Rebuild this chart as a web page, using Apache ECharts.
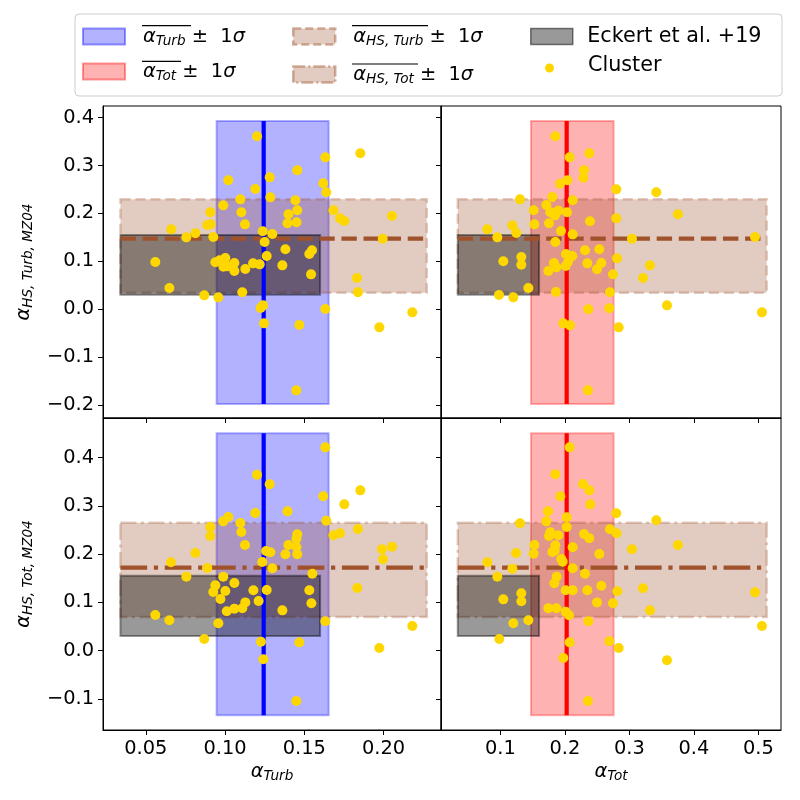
<!DOCTYPE html>
<html><head><meta charset="utf-8">
<script src="https://cdn.jsdelivr.net/npm/echarts@6.0.0/dist/echarts.min.js"></script>
<style>html,body{margin:0;padding:0;background:#fff}#c{width:800px;height:800px}</style>
</head><body><div id="c"></div>
<script>
// ---- tick labels ----
const turbTicks = [0.05, 0.10, 0.15, 0.20];
const totTicks = [0.1, 0.2, 0.3, 0.4, 0.5];
const hsTurbTicks = [-0.2, -0.1, 0.0, 0.1, 0.2, 0.3, 0.4];
const hsTotTicks = [-0.1, 0.0, 0.1, 0.2, 0.3, 0.4];

// ---- summary statistics [low, mean, high] ----
const turbStats = [0.0947, 0.1244, 0.1654];
const totStats = [0.1475, 0.2028, 0.2756];
const hsTurbStats = [0.0343, 0.1471, 0.2294];
const hsTotStats = [0.0696, 0.1718, 0.2651];
// spans of the bands
const turbRowSpan = [-0.1984, 0.3931];
const totRowSpan = [-0.134, 0.4501];
const turbColSpan = [0.034, 0.2273];
const totColSpan = [0.034, 0.5128];
// Eckert et al. +19 box
const eckertX = [0.034, 0.16];
const eckertY = [0.03, 0.155];

// ---- cluster values (per panel) ----
const tlX = [0.1202,0.1633,0.1854,0.1456,0.1021,0.1282,0.1191,0.162,0.1639,0.1286,0.1097,0.1444,0.0989,0.1456,0.0907,0.1103,0.140,0.1684,0.1726,0.1753,0.2054,0.1394,0.1451,0.0888,0.0909,0.1126,0.0661,0.0813,0.0756,0.0926,0.1238,0.1299,0.125,0.1995,0.1381,0.1549,0.1532,0.1263,0.056,0.0939,0.0966,0.1002,0.099,0.1017,0.1059,0.1059,0.1128,0.1177,0.1219,0.1362,0.1543,0.1833,0.1839,0.0649,0.0869,0.0958,0.1109,0.124,0.1225,0.1633,0.2182,0.1246,0.1469,0.1974,0.145];
const tlY = [0.361,0.3171,0.3255,0.290,0.2691,0.2753,0.2509,0.2628,0.244,0.2335,0.2293,0.2273,0.2168,0.2064,0.2022,0.2022,0.198,0.2064,0.1896,0.1841,0.1945,0.1792,0.1813,0.1757,0.1771,0.1771,0.1666,0.1583,0.1499,0.1506,0.1625,0.1569,0.1402,0.1471,0.1249,0.1228,0.1151,0.1109,0.0984,0.0977,0.1019,0.1067,0.0886,0.0893,0.0963,0.0796,0.0838,0.0956,0.0935,0.0914,0.0726,0.0649,0.035,0.044,0.0287,0.0245,0.035,0.0078,0.0022,0.0001,-0.0068,-0.0298,-0.0333,-0.0382,-0.1698];

const trX = [0.1852,0.2074,0.2379,0.2296,0.2286,0.2038,0.1924,0.2797,0.3417,0.1806,0.2121,0.1304,0.1713,0.1516,0.1775,0.1899,0.1847,0.2033,0.3753,0.2797,0.2389,0.1527,0.1754,0.1186,0.0798,0.1248,0.194,0.2121,0.0953,0.1852,0.304,0.4947,0.2312,0.2534,0.2017,0.2116,0.2808,0.1046,0.1325,0.1325,0.1831,0.1868,0.2012,0.2048,0.2348,0.2565,0.2498,0.3319,0.1744,0.2746,0.3211,0.1434,0.0979,0.1201,0.1862,0.2699,0.2364,0.2689,0.3583,0.5055,0.1976,0.2079,0.2834,0.2358];
const trY = [0.361,0.3171,0.3255,0.290,0.2746,0.2691,0.2621,0.2502,0.244,0.2342,0.2273,0.2293,0.2175,0.2064,0.2022,0.2057,0.1959,0.2022,0.198,0.1896,0.1834,0.1771,0.1792,0.175,0.1666,0.159,0.1632,0.1562,0.1499,0.1402,0.1471,0.1506,0.1228,0.1249,0.1151,0.1109,0.106,0.0998,0.1088,0.0928,0.0963,0.0872,0.09,0.0984,0.0956,0.0963,0.0831,0.0914,0.0796,0.0726,0.0649,0.044,0.0294,0.0245,0.0357,0.035,-0.0005,0.0016,0.0078,-0.0068,-0.0298,-0.034,-0.0382,-0.1698];

const blX = [0.1633,0.1202,0.1282,0.1854,0.162,0.1753,0.1394,0.1191,0.1021,0.0989,0.1097,0.1639,0.0907,0.1103,0.0907,0.1839,0.1684,0.1726,0.1456,0.1451,0.1126,0.140,0.1451,0.1991,0.2054,0.1259,0.1286,0.1381,0.1456,0.0813,0.1997,0.0659,0.1235,0.0888,0.1299,0.1551,0.0756,0.0989,0.1059,0.0939,0.1835,0.0926,0.1002,0.1179,0.1263,0.1532,0.0971,0.1212,0.1128,0.1545,0.1011,0.1059,0.1109,0.1362,0.056,0.0649,0.0958,0.1633,0.2182,0.0869,0.1227,0.1469,0.1974,0.1242,0.145];
const blY = [0.4211,0.3645,0.3445,0.332,0.3196,0.303,0.2885,0.2851,0.2768,0.2678,0.2644,0.2692,0.2561,0.2457,0.2374,0.2519,0.2388,0.243,0.2409,0.2319,0.2188,0.2188,0.2147,0.2098,0.2154,0.2064,0.2036,0.1995,0.1995,0.2022,0.1891,0.1829,0.1836,0.1712,0.1705,0.1594,0.1532,0.1532,0.1401,0.1352,0.1297,0.1214,0.1235,0.1249,0.1256,0.1249,0.1069,0.1028,0.0999,0.098,0.0814,0.0869,0.0876,0.0834,0.0738,0.0627,0.0565,0.0607,0.051,0.0241,0.0185,0.0171,0.0054,-0.0181,-0.1044];

const brX = [0.2074,0.1852,0.2281,0.2379,0.193,0.2394,0.1738,0.2797,0.2028,0.1713,0.3417,0.1304,0.2028,0.2699,0.2802,0.2296,0.2379,0.1775,0.1754,0.1899,0.3753,0.1527,0.1852,0.2121,0.304,0.1242,0.1516,0.1806,0.1842,0.2534,0.1945,0.1966,0.0798,0.1186,0.2121,0.2312,0.0953,0.1873,0.1837,0.2565,0.3211,0.2012,0.2121,0.2348,0.2813,0.4947,0.1325,0.1325,0.1046,0.2498,0.2746,0.1744,0.1868,0.2012,0.2064,0.3319,0.1434,0.1201,0.2364,0.5055,0.0984,0.2074,0.2689,0.2834,0.3583,0.1976,0.2358];
const brY = [0.4211,0.3652,0.3452,0.332,0.3196,0.303,0.2885,0.2844,0.2761,0.2678,0.2699,0.2637,0.2561,0.2513,0.243,0.2416,0.2326,0.245,0.2374,0.2388,0.2188,0.2188,0.2181,0.214,0.2098,0.2022,0.2008,0.2043,0.207,0.2001,0.1898,0.1843,0.1829,0.1698,0.1705,0.1594,0.1532,0.1532,0.1394,0.1345,0.129,0.1249,0.1249,0.1249,0.1228,0.1207,0.1187,0.1021,0.1062,0.0999,0.098,0.0876,0.0876,0.0807,0.0731,0.0834,0.0627,0.0565,0.0607,0.051,0.0241,0.0171,0.0192,0.0054,-0.0201,-0.0153,-0.1044];

// ---- styling ----
const FONT = 'DejaVu Sans';
const FS = 19.4, SFS = 13.6, LFS = 20.7;
const rich = {
  g: {fontFamily: FONT, fontSize: FS, fontStyle: 'italic', color: '#000'},
  s: {fontFamily: FONT, fontSize: SFS, fontStyle: 'italic', color: '#000', padding: [9, 0, 0, 0]},
  n: {fontFamily: FONT, fontSize: FS, color: '#000'},
  gp: {fontFamily: FONT, fontSize: FS, fontStyle: 'italic', color: '#000', padding: [0, 0, 0, 13]},
  ep: {fontFamily: FONT, fontSize: LFS, color: '#000', padding: [0, 0, 0, 9.5]},
  cp: {fontFamily: FONT, fontSize: LFS, color: '#000', padding: [0, 0, 5, 29]}
};
const BLUE = 'rgba(0,0,255,0.3)', RED = 'rgba(255,0,0,0.3)', BROWN = 'rgba(160,82,45,0.3)', GREY = 'rgba(0,0,0,0.4)';
const SIENNA = '#A0522D';

function rectItem(style) {
  return function (params, api) {
    const a = api.coord([api.value(0), api.value(3)]);
    const b = api.coord([api.value(1), api.value(2)]);
    return {type: 'rect', shape: {x: a[0], y: a[1], width: b[0] - a[0], height: b[1] - a[1]}, style: style};
  };
}
function rectSeries(name, idx, box, style, z) {
  return {type: 'custom', name: name, xAxisIndex: idx, yAxisIndex: idx, z: z, silent: true,
    renderItem: rectItem(style), encode: {x: [0, 1], y: [2, 3]}, data: [box]};
}
function lineSeries(name, idx, pts, color, dash, z) {
  return {type: 'line', name: name, xAxisIndex: idx, yAxisIndex: idx, z: z, silent: true, symbol: 'none',
    lineStyle: {color: color, width: 4.2, type: dash, cap: 'butt'}, data: pts};
}
function fmtY(v) { return (v < 0 ? '\u2212' : '') + Math.abs(v).toFixed(1); }

function xAxis(idx, min, max, ticks, digits, showLabel, name) {
  return {type: 'value', gridIndex: idx, min: min, max: max,
    name: name || '', nameLocation: 'middle', nameGap: 30, nameTextStyle: {rich: rich},
    axisLine: {show: true, onZero: false, lineStyle: {color: '#000', width: 1}},
    axisTick: {show: true, inside: false, length: 5, lineStyle: {color: '#000', width: 1}, customValues: ticks},
    axisLabel: {show: showLabel, customValues: ticks, margin: 9, color: '#000', fontFamily: FONT, fontSize: FS,
      formatter: v => Number(v).toFixed(digits)},
    splitLine: {show: false}};
}
function yAxis(idx, min, max, ticks, showLabel, name) {
  return {type: 'value', gridIndex: idx, min: min, max: max,
    name: name || '', nameLocation: 'middle', nameGap: 68, nameRotate: 90, nameTextStyle: {rich: rich},
    axisLine: {show: true, onZero: false, lineStyle: {color: '#000', width: 1}},
    axisTick: {show: true, inside: false, length: 5, lineStyle: {color: '#000', width: 1}, customValues: ticks},
    axisLabel: {show: showLabel, customValues: ticks, margin: 9, color: '#000', fontFamily: FONT, fontSize: FS,
      formatter: v => fmtY(Number(v))},
    splitLine: {show: false}};
}

const gridBase = {show: true, borderColor: '#000', borderWidth: 1, backgroundColor: 'transparent', containLabel: false, outerBoundsMode: 'none'};
const grids = [
  Object.assign({left: 103, top: 106, width: 338, height: 312}, gridBase),
  Object.assign({left: 441, top: 106, width: 340, height: 312}, gridBase),
  Object.assign({left: 103, top: 418, width: 338, height: 312}, gridBase),
  Object.assign({left: 441, top: 418, width: 340, height: 312}, gridBase)
];

const XL = [0.023, 0.2363], XR = [0.008, 0.535], YT = [-0.2276, 0.4244], YB = [-0.1645, 0.4819];
const xAxes = [
  xAxis(0, XL[0], XL[1], turbTicks, 2, false),
  xAxis(1, XR[0], XR[1], totTicks, 1, false),
  xAxis(2, XL[0], XL[1], turbTicks, 2, true, '{g|\u03b1}{s|Turb}'),
  xAxis(3, XR[0], XR[1], totTicks, 1, true, '{g|\u03b1}{s|Tot}')
];
const yAxes = [
  yAxis(0, YT[0], YT[1], hsTurbTicks, true, '{g|\u03b1}{s|HS, Turb, MZ04}'),
  yAxis(1, YT[0], YT[1], hsTurbTicks, false),
  yAxis(2, YB[0], YB[1], hsTotTicks, true, '{g|\u03b1}{s|HS, Tot, MZ04}'),
  yAxis(3, YB[0], YB[1], hsTotTicks, false)
];

const DASH = [15.4, 6.7], DASHDOT = [26.7, 6.7, 4.2, 6.7];
const BDASH = [10, 5], BDASHDOT = [16, 4.5, 3, 4.5];

// panel definitions: column stats (x), row stats (y)
const panels = [
  {i: 0, xs: turbStats, xName: 'turb', xCol: 'blue', xFill: BLUE, rowSpan: turbRowSpan, colSpan: turbColSpan, ys: hsTurbStats, yName: 'hsTurb', dash: DASH, bdash: BDASH, px: tlX, py: tlY},
  {i: 1, xs: totStats, xName: 'tot', xCol: 'red', xFill: RED, rowSpan: turbRowSpan, colSpan: totColSpan, ys: hsTurbStats, yName: 'hsTurb', dash: DASH, bdash: BDASH, px: trX, py: trY},
  {i: 2, xs: turbStats, xName: 'turb', xCol: 'blue', xFill: BLUE, rowSpan: totRowSpan, colSpan: turbColSpan, ys: hsTotStats, yName: 'hsTot', dash: DASHDOT, bdash: BDASHDOT, px: blX, py: blY},
  {i: 3, xs: totStats, xName: 'tot', xCol: 'red', xFill: RED, rowSpan: totRowSpan, colSpan: totColSpan, ys: hsTotStats, yName: 'hsTot', dash: DASHDOT, bdash: BDASHDOT, px: brX, py: brY}
];

const series = [];
panels.forEach(p => {
  series.push(rectSeries(p.xName, p.i, [p.xs[0], p.xs[2], p.rowSpan[0], p.rowSpan[1]],
    {fill: p.xFill, stroke: p.xFill, lineWidth: 2}, 1));
  series.push(rectSeries(p.yName, p.i, [p.colSpan[0], p.colSpan[1], p.ys[0], p.ys[2]],
    {fill: BROWN, stroke: BROWN, lineWidth: 2.5, lineDash: p.bdash}, 1));
  series.push(rectSeries('eckert', p.i, [eckertX[0], eckertX[1], eckertY[0], eckertY[1]],
    {fill: GREY, stroke: GREY, lineWidth: 2}, 1));
  series.push(lineSeries(p.yName + 'Mean', p.i, [[p.colSpan[0], p.ys[1]], [p.colSpan[1], p.ys[1]]], SIENNA, p.dash, 2));
  series.push(lineSeries(p.xName + 'Mean', p.i, [[p.xs[1], p.rowSpan[0]], [p.xs[1], p.rowSpan[1]]], p.xCol, 'solid', 3));
  series.push({type: 'scatter', name: 'cluster', xAxisIndex: p.i, yAxisIndex: p.i, z: 4, silent: true,
    symbol: 'circle', symbolSize: 10, itemStyle: {color: '#FFD700', opacity: 1},
    data: p.px.map((v, k) => [v, p.py[k]])});
});

const legendText = {
  turb: '{gp|\u03b1}{s|Turb}{n| \u00b1  1}{g|\u03c3}',
  tot: '{gp|\u03b1}{s|Tot}{n| \u00b1  1}{g|\u03c3}',
  hsTurb: '{gp|\u03b1}{s|HS, Turb}{n| \u00b1  1}{g|\u03c3}',
  hsTot: '{gp|\u03b1}{s|HS, Tot}{n| \u00b1  1}{g|\u03c3}',
  eckert: '{ep|Eckert et al. +19}',
  cluster: '{cp|Cluster}'
};
function legend(name, left, top, itemStyle, icon, w, h) {
  return {show: true, left: left, top: top, padding: 0, orient: 'vertical', selectedMode: false,
    itemWidth: w || 42, itemHeight: h || 16, z: 10,
    data: [{name: name, icon: icon || 'rect', itemStyle: itemStyle}],
    formatter: n => legendText[n], textStyle: {rich: rich, color: '#000'}};
}
const legends = [
  legend('turb', 82, 27, {color: BLUE, borderColor: 'rgba(0,0,255,0.4)', borderWidth: 2}),
  legend('tot', 82, 62, {color: RED, borderColor: 'rgba(255,0,0,0.4)', borderWidth: 2}),
  legend('hsTurb', 292, 27, {color: BROWN, borderColor: 'rgba(160,82,45,0.45)', borderWidth: 2.5, borderType: [8, 4]}),
  legend('hsTot', 292, 65, {color: BROWN, borderColor: 'rgba(160,82,45,0.45)', borderWidth: 2.5, borderType: [12, 3, 2, 3]}),
  legend('eckert', 530, 26, {color: GREY, borderColor: 'rgba(0,0,0,0.5)', borderWidth: 1.5}),
  legend('cluster', 545, 55, {color: '#FFD700'}, 'circle', 9, 9)
];

const overline = (x1, x2, y) => ({type: 'line', z: 100, silent: true,
  shape: {x1: x1, y1: y, x2: x2, y2: y}, style: {stroke: '#000', lineWidth: 1.2}});

const option = {
  animation: false,
  backgroundColor: '#fff',
  textStyle: {fontFamily: FONT},
  grid: grids, xAxis: xAxes, yAxis: yAxes, legend: legends, series: series,
  graphic: [
    {type: 'rect', z: 0, silent: true, shape: {x: 75, y: 14, width: 707, height: 82, r: 4},
      style: {fill: 'rgba(255,255,255,0.8)', stroke: '#cccccc', lineWidth: 1}},
    overline(142, 191, 25.7),
    overline(142, 181, 61.3),
    overline(352, 428, 25.7),
    overline(352, 418, 64)
  ]
};
const chart = echarts.init(document.getElementById('c'), null, {renderer: 'canvas'});
chart.setOption(option);
</script></body></html>
